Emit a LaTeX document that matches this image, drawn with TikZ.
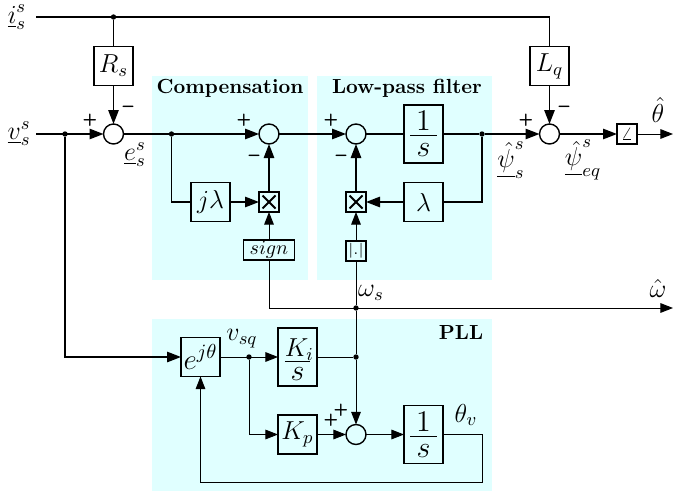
\documentclass[tikz,border=0pt]{standalone}
\usepackage{fix-cm}
\usepackage{amsmath}
\usetikzlibrary{arrows.meta}
\definecolor{panel}{HTML}{E0FFFF}
% stacked fraction: top pad, numerator, gap, rule, gap, denominator
\newcommand{\stackfr}[6]{\vbox{\offinterlineskip\hsize=#6\kern#1\hbox to\hsize{\hfil$#2$\hfil}\kern#3\hrule height 0.35pt\kern#4\hbox to\hsize{\hfil$#5$\hfil}}}
\tikzset{
  x=0.5pt,y=-0.5pt,
  every node/.style={inner sep=0pt,outer sep=0pt},
  heavy/.style={line width=0.8pt},
  light/.style={line width=0.5pt},
  harrow/.style={heavy,-{Triangle[length=7pt,width=5.2pt]}},
  larrow/.style={light,-{Triangle[length=6.3pt,width=4.8pt]}},
  blockb/.style={draw,line width=0.7pt,fill=none,minimum width=19.5pt,minimum height=19.5pt,font=\fontsize{13}{15}\selectfont},
  tallb/.style={blockb,minimum height=29pt},
  smallb/.style={draw,line width=0.7pt,minimum width=10pt,minimum height=10pt,font=\fontsize{7.5}{9}\selectfont},
  signb/.style={draw,line width=0.7pt,minimum width=25.5pt,minimum height=10pt,font=\fontsize{10}{12}\selectfont},
  sumc/.style={draw,circle,line width=0.7pt,minimum size=10pt},
  dotn/.style={fill,circle,minimum size=2.7pt},
  lab/.style={font=\fontsize{13}{15}\selectfont},
  head/.style={font=\fontsize{10.2}{12}\selectfont\bfseries},
  sgn/.style={font=\fontsize{8.5}{10}\selectfont\sffamily\bfseries},
  sgm/.style={font=\fontsize{10}{12}\selectfont\sffamily\bfseries},
}
\begin{document}
\begin{tikzpicture}
\useasboundingbox (0,0) rectangle (673,492);
% panels
\fill[panel] (152,76) rectangle (308,280);
\fill[panel] (317,76) rectangle (492,280);
\fill[panel] (152,319) rectangle (492,491);
\node[head] (tcomp) at (230,88) {Compensation};
\node[head] (tlpf) at (407,88) {Low-pass filter};
\node[head] (tpll) at (461,332) {PLL};
% free ends
\coordinate (iin) at (36,17);
\coordinate (vin) at (36,134);
\coordinate (thout) at (673,134);
\coordinate (wout) at (673,308);
% blocks
\node[blockb] (rs) at (113.5,66) {$R_s$};
\node[blockb] (lq) at (549.5,66) {$L_q$};
\node[sumc] (s1) at (113.5,134) {};
\node[sumc] (s2) at (269,134) {};
\node[sumc] (s3) at (356,134) {};
\node[sumc] (s5) at (549.5,134) {};
\node[sumc] (s4) at (356,434.5) {};
\node[blockb] (jl) at (210.5,202) {$j\lambda$};
\node[smallb] (x1) at (269,202) {};
\node[smallb] (x2) at (356,202) {};
\node[signb] (sg) at (269,250) {$sign$};
\node[smallb] (ab) at (356,251) {$|\mathbf{.}|$};
\node[tallb] (int1) at (423.5,134) {\fontsize{15}{17}\selectfont\stackfr{0pt}{1}{2.2pt}{4pt}{s}{13.5pt}};
\node[blockb] (lam) at (423.5,202) {$\lambda$};
\node[smallb,font=\fontsize{9}{11}\selectfont] (ang) at (627,134) {$\angle$};
\node[blockb,font=\fontsize{14.5}{17}\selectfont] (ej) at (200.5,357) {$e^{j\theta}$};
\node[tallb] (ki) at (297.5,357) {\stackfr{2.5pt}{\smash[b]{K_i}}{2.2pt}{3pt}{\text{\fontsize{15}{17}\selectfont$s$}}{12.7pt}};
\node[blockb] (kp) at (297.5,434.5) {$K_p$};
\node[tallb] (int2) at (423.5,434.5) {\fontsize{15}{17}\selectfont\stackfr{0pt}{1}{2.2pt}{4pt}{s}{13.5pt}};
% crosses in multipliers
\foreach \n in {x1,x2}{
  \draw[line width=0.9pt] ([shift={(-6.5,-6.5)}]\n.center) -- ([shift={(6.5,6.5)}]\n.center);
  \draw[line width=0.9pt] ([shift={(-6.5,6.5)}]\n.center) -- ([shift={(6.5,-6.5)}]\n.center);
}
% dots
\node[dotn] (d1) at (113.5,17) {};
\node[dotn] (d2) at (65,134) {};
\node[dotn] (d3) at (171.5,134) {};
\node[dotn] (d4) at (482,134) {};
\node[dotn] (d5) at (356,308) {};
\node[dotn] (d6) at (356,357) {};
\node[dotn] (d7) at (249,357) {};
% top line
\draw[heavy] (iin) -- (d1) -- ++(436,0) coordinate (tc) -- (lq.north);
\draw[heavy] (d1) -- (rs.north);
\draw[harrow] (rs.south) -- (s1.north);
\draw[harrow] (lq.south) -- (s5.north);
% main line
\draw[harrow] (vin) -- (s1.west);
\draw[harrow] (s1.east) -- (s2.west);
\draw[harrow] (s2.east) -- (s3.west);
\draw[heavy] (s3.east) -- (int1.west);
\draw[heavy] (int1.east) -- (d4);
\draw[harrow] (d4) -- (s5.west);
\draw[harrow] (s5.east) -- (ang.west);
\draw[larrow] (ang.east) -- (thout);
% compensation
\draw[heavy] (d3) |- (jl.west);
\draw[harrow] (jl.east) -- (x1.west);
\draw[harrow] (x1.north) -- (s2.south);
\draw[larrow] (sg.north) -- (x1.south);
% low-pass
\draw[heavy] (d4) |- (lam.east);
\draw[harrow] (lam.west) -- (x2.east);
\draw[harrow] (x2.north) -- (s3.south);
\draw[larrow] (ab.north) -- (x2.south);
% speed lines
\draw[larrow] (sg.south) |- (wout);
\draw[light] (ab.south) -- (d5) -- (d6);
\draw[larrow] (d6) -- (s4.north);
% v into PLL
\draw[harrow] (d2) |- (ej.west);
% PLL
\draw[larrow] (ej.east) -- (ki.west);
\draw[light] (ki.east) -- (d6);
\draw[larrow] (d7) |- (kp.west);
\draw[larrow] (kp.east) -- (s4.west);
\draw[larrow] (s4.east) -- (int2.west);
\coordinate (fb1) at (482,482);
\draw[larrow] (int2.east) -| (fb1) -| (ej.south);
% labels
\node[lab] (li) at (17,17) {$\underline{i}_s^s$};
\node[lab] (lv) at (19,134) {$\underline{v}_s^s$};
\node[lab] (le) at (135,155) {$\underline{e}_s^s$};
\node[lab] (lp1) at (511,160) {$\underline{\hat{\psi}}_s^s$};
\node[lab] (lp2) at (583,160) {$\underline{\hat{\psi}}_{eq}^s$};
\node[lab] (lth) at (658,110) {$\hat{\theta}$};
\node[lab] (lw) at (658,288) {$\hat{\omega}$};
\node[lab] (lws) at (371,293) {$\omega_s$};
\node[lab] (lvq) at (242,339) {$v_{sq}$};
\node[lab] (ltv) at (466,415) {$\theta_v$};
% signs
\node[sgn] (p1) at (90,120) {+};
\node[sgm] (m1) at (128,109) {--};
\node[sgn] (p2) at (244,120) {+};
\node[sgm] (m2) at (254,158) {--};
\node[sgn] (p3) at (331,120) {+};
\node[sgm] (m3) at (341,158) {--};
\node[sgn] (p5) at (526,120) {+};
\node[sgm] (m5) at (564,109) {--};
\node[sgn] (p6) at (331,420) {+};
\node[sgn] (p7) at (341,410) {+};
\end{tikzpicture}
\end{document}
